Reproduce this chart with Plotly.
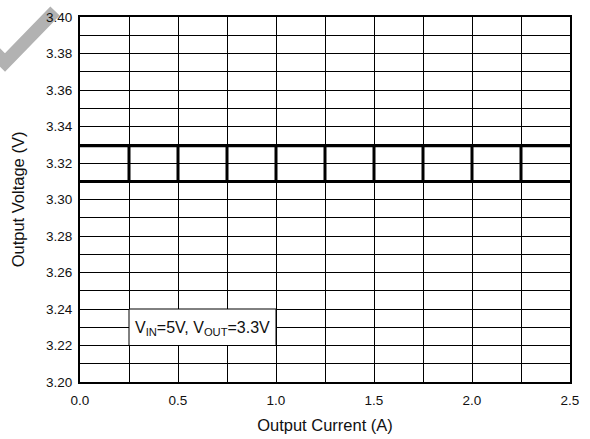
import plotly.graph_objects as go

# Data
current_a = [0.0, 0.25, 0.5, 0.75, 1.0, 1.25, 1.5, 1.75, 2.0, 2.25, 2.5]
vout_upper = [3.3295, 3.3295, 3.3295, 3.3295, 3.3295, 3.3295, 3.3295, 3.3295, 3.3295, 3.3295, 3.3295]
vout_lower = [3.3098, 3.3098, 3.3098, 3.3098, 3.3098, 3.3098, 3.3098, 3.3098, 3.3098, 3.3098, 3.3098]
x_ticks = [0.0, 0.5, 1.0, 1.5, 2.0, 2.5]
x_tick_labels = ["0.0", "0.5", "1.0", "1.5", "2.0", "2.5"]
y_ticks = [3.20, 3.22, 3.24, 3.26, 3.28, 3.30, 3.32, 3.34, 3.36, 3.38, 3.40]
y_tick_labels = ["3.20", "3.22", "3.24", "3.26", "3.28", "3.30", "3.32", "3.34", "3.36", "3.38", "3.40"]

FONT = "Liberation Sans, Arial, sans-serif"
TXT = "#111111"

fig = go.Figure()

# vertical connectors between the two bands at each interior grid position
vx, vy = [], []
for i, xv in enumerate(current_a):
    if 0 < i < len(current_a) - 1:
        vx += [xv, xv, None]
        vy += [vout_lower[i], vout_upper[i], None]
fig.add_trace(go.Scatter(x=vx, y=vy, mode="lines", line=dict(color="black", width=3),
                         showlegend=False, hoverinfo="skip"))
fig.add_trace(go.Scatter(x=current_a, y=vout_upper, mode="lines",
                         line=dict(color="black", width=3), showlegend=False))
fig.add_trace(go.Scatter(x=current_a, y=vout_lower, mode="lines",
                         line=dict(color="black", width=3), showlegend=False))

# condition label box
fig.add_shape(type="rect", xref="x", yref="y", x0=0.25, x1=1.0, y0=3.22, y1=3.24,
              fillcolor="white", line=dict(color="black", width=1), layer="above")
fig.add_annotation(x=0.627, y=3.2293, xref="x", yref="y", showarrow=False,
                   text="V<sub>IN</sub>=5V, V<sub>OUT</sub>=3.3V",
                   font=dict(family=FONT, size=16, color=TXT))

# watermark check mark
def px(xp):
    return (xp - 80) / 490.0
def py(yp):
    return (382 - yp) / 365.0
path = "M {:.4f} {:.4f} L {:.4f} {:.4f} L {:.4f} {:.4f}".format(
    px(-14), py(43.5), px(5), py(62.5), px(55), py(11))
fig.add_shape(type="path", xref="paper", yref="paper", path=path,
              line=dict(color="rgb(178,178,178)", width=13), layer="below")

axis_common = dict(showline=True, linecolor="black", linewidth=2, mirror=True,
                   showgrid=True, gridcolor="black", gridwidth=1, zeroline=False,
                   ticks="", tickfont=dict(family=FONT, size=13.5, color=TXT))

fig.update_xaxes(range=[0, 2.5], tickvals=x_ticks, ticktext=x_tick_labels,
                 minor=dict(tick0=0, dtick=0.25, showgrid=True, gridcolor="black", gridwidth=1),
                 title=dict(text="Output Current (A)", font=dict(family=FONT, size=16.5, color=TXT),
                            standoff=12),
                 ticklabelstandoff=5, **axis_common)
fig.update_yaxes(range=[3.20, 3.40], tickvals=y_ticks, ticktext=y_tick_labels,
                 minor=dict(tick0=3.20, dtick=0.01, showgrid=True, gridcolor="black", gridwidth=1),
                 title=dict(text="Output Voltage (V)", font=dict(family=FONT, size=16.5, color=TXT),
                            standoff=17),
                 ticklabelstandoff=3, **axis_common)

fig.update_layout(width=590, height=439, margin=dict(l=80, r=20, t=17, b=57, autoexpand=False),
                  plot_bgcolor="white", paper_bgcolor="white", showlegend=False,
                  font=dict(family=FONT))

fig.write_html("out.html", config={"displayModeBar": False},
               post_script="document.body.style.margin='0px';")
